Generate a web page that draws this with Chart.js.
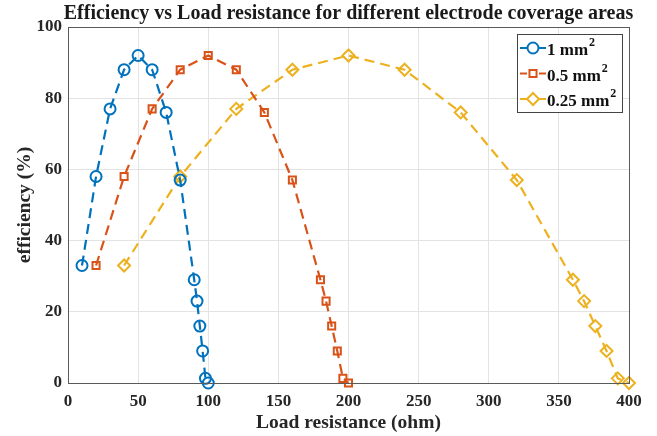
<!DOCTYPE html>
<html>
<head>
<meta charset="utf-8">
<script src="https://cdn.jsdelivr.net/npm/chart.js@4/dist/chart.umd.min.js"></script>
<style>
  html, body { margin: 0; padding: 0; background: #fff; }
  #wrap { width: 657px; height: 436px; }
</style>
</head>
<body>
<div id="wrap"><canvas id="effChart" width="657" height="436"></canvas></div>
<script>
// load resistance (ohm) for each electrode area
const resistance1 = [10, 20, 30, 40, 50, 60, 70, 80, 90, 92, 94, 96, 98, 100];
const resistance05 = [20, 40, 60, 80, 100, 120, 140, 160, 180, 184, 188, 192, 196, 200];
const resistance025 = [40, 80, 120, 160, 200, 240, 280, 320, 360, 368, 376, 384, 392, 400];
// efficiency (%) - same curve shape for all three areas
const efficiency1 = [33, 58, 77, 88, 92, 88, 76, 57, 29, 23, 16, 9, 1.3, 0];
const efficiency05 = [33, 58, 77, 88, 92, 88, 76, 57, 29, 23, 16, 9, 1.3, 0];
const efficiency025 = [33, 58, 77, 88, 92, 88, 76, 57, 29, 23, 16, 9, 1.3, 0];

const seriesNames = ['1 mm²', '0.5 mm²', '0.25 mm²'];
const xTicks = [0, 50, 100, 150, 200, 250, 300, 350, 400];
const yTicks = [0, 20, 40, 60, 80, 100];

const serif = '"Liberation Serif", "Times New Roman", serif';

function pts(xs, ys) {
    return xs.map((x, i) => ({ x: x, y: ys[i] }));
}

function makeSet(label, xs, ys, color, style, radius) {
    return {
        label: label,
        data: pts(xs, ys),
        borderColor: color,
        backgroundColor: 'rgba(0,0,0,0)',
        borderWidth: 2.2,
        borderDash: [10, 6],
        pointStyle: style,
        pointRadius: radius,
        pointBorderWidth: 2,
        pointBorderColor: color,
        pointBackgroundColor: 'rgba(0,0,0,0)',
        clip: false,
        tension: 0
    };
}

// frame, title and matlab-like legend
const extras = {
    id: 'extras',
    afterDraw(chart) {
        const ctx = chart.ctx;
        const a = chart.chartArea;
        ctx.save();
        ctx.strokeStyle = '#5a5a5a';
        ctx.lineWidth = 1;
        ctx.strokeRect(a.left + 0.5, a.top + 0.5, a.right - a.left, a.bottom - a.top);

        // title
        ctx.fillStyle = '#1a1a1a';
        ctx.font = 'bold 20px ' + serif;
        ctx.textAlign = 'center';
        ctx.textBaseline = 'middle';
        ctx.fillText('Efficiency vs Load resistance for different electrode coverage areas',
            (a.left + a.right) / 2, 13.5);

        // legend
        const bw = 105, bh = 78;
        const bx = a.right - 7 - bw, by = a.top + 7;
        ctx.fillStyle = '#fff';
        ctx.fillRect(bx, by, bw, bh);
        ctx.strokeStyle = '#444';
        ctx.strokeRect(bx + 0.5, by + 0.5, bw, bh);
        chart.data.datasets.forEach((ds, i) => {
            const cy = by + 14 + i * 25.5;
            ctx.strokeStyle = ds.borderColor;
            ctx.lineWidth = 2;
            ctx.setLineDash([]);
            ctx.beginPath();
            ctx.moveTo(bx + 3, cy);
            ctx.lineTo(bx + 29, cy);
            ctx.stroke();
            ctx.fillStyle = '#fff';
            ctx.fillRect(bx + 10, cy - 6, 12, 12);
            Chart.helpers.drawPoint(ctx, {
                pointStyle: ds.pointStyle, radius: ds.pointRadius, borderWidth: 2
            }, bx + 16, cy);
            const parts = ds.label.split('²');
            ctx.fillStyle = '#111';
            ctx.textAlign = 'left';
            ctx.textBaseline = 'middle';
            ctx.font = 'bold 17px ' + serif;
            ctx.fillText(parts[0], bx + 30, cy + 3);
            const w = ctx.measureText(parts[0]).width;
            ctx.font = 'bold 12px ' + serif;
            ctx.fillText('2', bx + 31 + w, cy - 5);
        });
        ctx.restore();
    }
};

new Chart(document.getElementById('effChart'), {
    type: 'line',
    data: {
        datasets: [
            makeSet(seriesNames[0], resistance1, efficiency1, '#0072BD', 'circle', 5.5),
            makeSet(seriesNames[1], resistance05, efficiency05, '#D95319', 'rect', 5),
            makeSet(seriesNames[2], resistance025, efficiency025, '#EDB120', 'rectRot', 6)
        ]
    },
    options: {
        responsive: false,
        animation: false,
        layout: { padding: { left: 0, top: 27, right: 28, bottom: 0 } },
        plugins: {
            legend: { display: false },
            title: { display: false },
            tooltip: { enabled: false }
        },
        scales: {
            x: {
                type: 'linear',
                min: 0,
                max: 400,
                afterBuildTicks: s => { s.ticks = xTicks.map(v => ({ value: v })); },
                afterFit: s => { s.height = 53; },
                grid: { color: '#e3e3e3', drawTicks: false },
                border: { color: '#5a5a5a' },
                ticks: {
                    padding: 8,
                    color: '#262626',
                    font: { family: serif, size: 17, weight: 'bold' }
                },
                title: {
                    display: true,
                    text: 'Load resistance (ohm)',
                    color: '#262626',
                    padding: { top: 0, bottom: 1 },
                    font: { family: serif, size: 19.5, weight: 'bold' }
                }
            },
            y: {
                min: 0,
                max: 100,
                afterBuildTicks: s => { s.ticks = yTicks.map(v => ({ value: v })); },
                afterFit: s => { s.width = 68; },
                grid: { color: '#e3e3e3', drawTicks: false },
                border: { color: '#5a5a5a' },
                ticks: {
                    padding: 6,
                    color: '#262626',
                    font: { family: serif, size: 17, weight: 'bold' }
                },
                title: {
                    display: true,
                    text: 'efficiency (%)',
                    color: '#262626',
                    padding: { top: 13, bottom: 0 },
                    font: { family: serif, size: 19.5, weight: 'bold' }
                }
            }
        }
    },
    plugins: [extras]
});
</script>
</body>
</html>
